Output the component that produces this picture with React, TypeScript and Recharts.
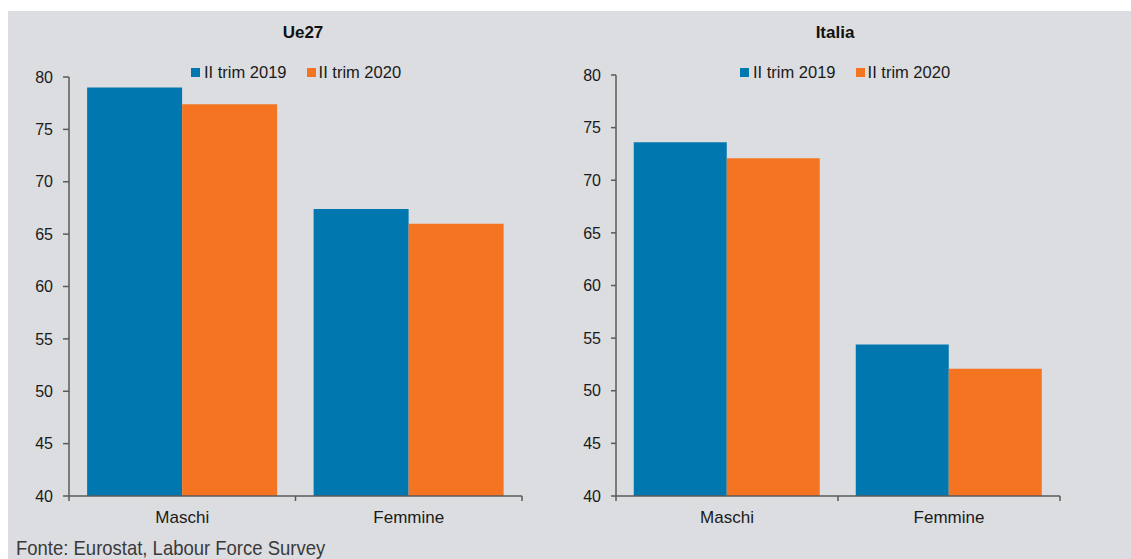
import React from 'react';
import { BarChart, Bar, XAxis, YAxis, Legend } from 'recharts';

const categories = ['Maschi', 'Femmine'];
const ue27_2019 = [79.0, 67.4];
const ue27_2020 = [77.4, 66.0];
const italia_2019 = [73.6, 54.4];
const italia_2020 = [72.1, 52.1];
const yTicks = [40, 45, 50, 55, 60, 65, 70, 75, 80];
const seriesNames = ['II trim 2019', 'II trim 2020'];

const BLUE = '#0077ae';
const ORANGE = '#f47421';
const AXIS = '#5a5a5a';
const BG = '#dcdde0';
const FONT = '"Liberation Sans", Arial, sans-serif';

const ue27Data = categories.map((c, i) => ({ name: c, y2019: ue27_2019[i], y2020: ue27_2020[i] }));
const italiaData = categories.map((c, i) => ({ name: c, y2019: italia_2019[i], y2020: italia_2020[i] }));

// category label + Excel-style tick marks on the category boundaries
const makeCatTick = (half: number, count: number) => (props: any) => {
  const { x, y, payload, index } = props;
  return (
    <g>
      <line x1={x - half} x2={x - half} y1={y} y2={y + 5} stroke={AXIS} strokeWidth={1.5} />
      {index === count - 1 && (
        <line x1={x + half} x2={x + half} y1={y} y2={y + 5} stroke={AXIS} strokeWidth={1.5} />
      )}
      <text x={x} y={y + 21} dy="0.35em" textAnchor="middle" fontSize={17} fill="#1a1a1a" fontFamily={FONT}>
        {payload.value}
      </text>
    </g>
  );
};

const LegendContent = () => (
  <div style={{ display: 'flex', alignItems: 'center', fontFamily: FONT, fontSize: 16.5, color: '#1a1a1a', whiteSpace: 'nowrap' }}>
    <span style={{ width: 9, height: 9, background: BLUE, display: 'inline-block', marginRight: 4 }} />
    <span style={{ marginRight: 20 }}>{seriesNames[0]}</span>
    <span style={{ width: 9, height: 9, background: ORANGE, display: 'inline-block', marginRight: 3 }} />
    <span>{seriesNames[1]}</span>
  </div>
);

interface PanelProps {
  data: any[];
  width: number;
  top: number;
  yWidth: number;
  right: number;
  tickSize: number;
  legendLeft: number;
}

const Panel: React.FC<PanelProps> = ({ data, width, top, yWidth, right, tickSize, legendLeft }) => {
  const plotWidth = width - yWidth - right;
  const half = plotWidth / data.length / 2;
  return (
    <BarChart
      width={width}
      height={515}
      data={data}
      margin={{ top, right, left: 0, bottom: 0 }}
      barCategoryGap="8%"
      barGap={0}
    >
      <XAxis
        dataKey="name"
        height={30}
        tickSize={0}
        tickMargin={0}
        tickLine={false}
        axisLine={{ stroke: AXIS, strokeWidth: 1.5 }}
        tick={makeCatTick(half, data.length)}
        interval={0}
      />
      <YAxis
        width={yWidth}
        domain={[40, 80]}
        ticks={yTicks}
        allowDataOverflow
        tickSize={tickSize}
        tickMargin={10}
        tickLine={{ stroke: AXIS, strokeWidth: 1.5 }}
        axisLine={{ stroke: AXIS, strokeWidth: 1.5 }}
        tick={{ fontSize: 16, fill: '#1a1a1a', fontFamily: FONT }}
      />
      <Legend
        layout="horizontal"
        verticalAlign="middle"
        align="center"
        content={LegendContent}
        wrapperStyle={{ top: 52, left: legendLeft, width: 280 }}
      />
      <Bar dataKey="y2019" name={seriesNames[0]} fill={BLUE} isAnimationActive={false} />
      <Bar dataKey="y2020" name={seriesNames[1]} fill={ORANGE} isAnimationActive={false} />
    </BarChart>
  );
};

const titleStyle: React.CSSProperties = {
  position: 'absolute',
  top: 12,
  width: 200,
  textAlign: 'center',
  fontFamily: FONT,
  fontWeight: 'bold',
  fontSize: 17,
  color: '#111',
};

export default function App() {
  return (
    <div style={{ position: 'absolute', left: 8, top: 11, width: 1123, height: 548, background: BG, overflow: 'hidden' }}>
      <div style={{ ...titleStyle, left: 295 - 100 }}>Ue27</div>
      <div style={{ ...titleStyle, left: 827 - 100 }}>Italia</div>
      <div style={{ position: 'absolute', left: 0, top: 0 }}>
        <Panel data={ue27Data} width={552} top={66} yWidth={61} right={38} tickSize={6} legendLeft={183} />
      </div>
      <div style={{ position: 'absolute', left: 552, top: 0 }}>
        <Panel data={italiaData} width={571} top={64} yWidth={56} right={71} tickSize={5} legendLeft={180} />
      </div>
      <div
        style={{
          position: 'absolute',
          left: 8,
          top: 525,
          fontFamily: FONT,
          fontSize: 21,
          lineHeight: '24px',
          color: '#3a3a3a',
          whiteSpace: 'nowrap',
          transform: 'scaleX(0.88)',
          transformOrigin: 'left center',
        }}
      >
        Fonte: Eurostat, Labour Force Survey
      </div>
    </div>
  );
}
